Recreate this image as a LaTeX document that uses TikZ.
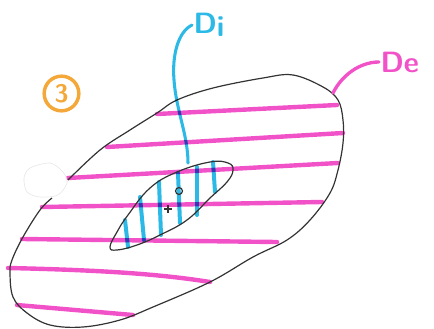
\documentclass[tikz,border=0pt]{standalone}
\usepackage{tikz}
\usetikzlibrary{positioning}
\definecolor{markpink}{RGB}{242,82,200}
\definecolor{markblue}{RGB}{45,185,230}
\definecolor{markorange}{RGB}{244,168,58}
\tikzset{pinkline/.style={markpink, line width=3.3pt, line cap=round}}
\tikzset{blueline/.style={markblue, line width=3pt, line cap=round}}
\tikzset{pencil/.style={black!80, line width=0.9pt}}
\tikzset{label/.style={font=\sffamily\bfseries\fontsize{22}{24}\selectfont, inner sep=1pt}}

\begin{document}
\begin{tikzpicture}[x=0.75pt, y=-0.75pt]
\useasboundingbox (0,0) rectangle (434,328);
\draw[pinkline] (157,114) -- (337,105);
\draw[pinkline] (107,147) -- (343,133);
\draw[pinkline] (68,178) -- (338,163);
\draw[pinkline] (42,207) -- (322,202);
\draw[pinkline] (22,239) -- (277,242);
\draw[pinkline] (8,268) .. controls (100,270) and (160,274) .. (210,282);
\draw[pinkline] (17,305) -- (133,315);
\draw[pencil] plot[smooth, tension=0.6] coordinates {(68,180) (100,150) (130,130) (157,113) (177,100) (213,88) (263,78) (293,75) (323,87) (338,100) (343,120) (343,143) (338,170) (330,193) (310,220) (287,240) (253,257) (210,282) (153,307) (120,320) (83,327) (50,325) (27,313) (13,297) (10,273) (12,260) (23,237) (40,210) (52,198)};
\filldraw[fill=white, draw=black!10] plot[smooth cycle] coordinates {(30,168) (50,163) (63,172) (67,183) (58,195) (40,197) (27,192) (24,178)};
\begin{scope}[blend mode=multiply]
\draw[blueline] (125,220) -- (128,247);
\draw[blueline] (140,197) -- (144,240);
\draw[blueline] (159,182) -- (161,235);
\draw[blueline] (178,173) -- (180,223);
\draw[blueline] (197,167) -- (197,215);
\draw[blueline] (213,162) -- (215,192);
\end{scope}
\draw[pencil] plot[smooth cycle, tension=0.7] coordinates {(110,247) (117,232) (128,215) (150,188) (177,172) (210,162) (228,163) (233,170) (227,182) (210,198) (187,220) (160,235) (137,245) (117,250)};
\draw[pencil] (179,191) circle (2.6pt);
\draw[pencil] (164,209) -- (172,209);
\draw[pencil] (168,205) -- (168,213);
\node[circle, draw=markorange, line width=2.6pt, text=markorange, minimum size=26pt, inner sep=0pt, font=\sffamily\bfseries\fontsize{19}{20}\selectfont] (three) at (61.5,93.5) {3};
\node[label, text=markblue, anchor=west] (di) at (192,25) {D\raisebox{-2pt}{i}};
\node[label, text=markpink, anchor=west] (de) at (379,62) {De};
\coordinate (diend) at (188,163);
\coordinate (deend) at (333,93);
\begin{scope}[blend mode=multiply]
\draw[blueline, line width=2.3pt] (di.west) .. controls (178,32) and (172,55) .. (174,80) .. controls (176,110) and (188,135) .. (diend);
\end{scope}
\draw[pinkline, line width=2.5pt] (de.west) .. controls (360,62) and (342,75) .. (deend);
\end{tikzpicture}
\end{document}
